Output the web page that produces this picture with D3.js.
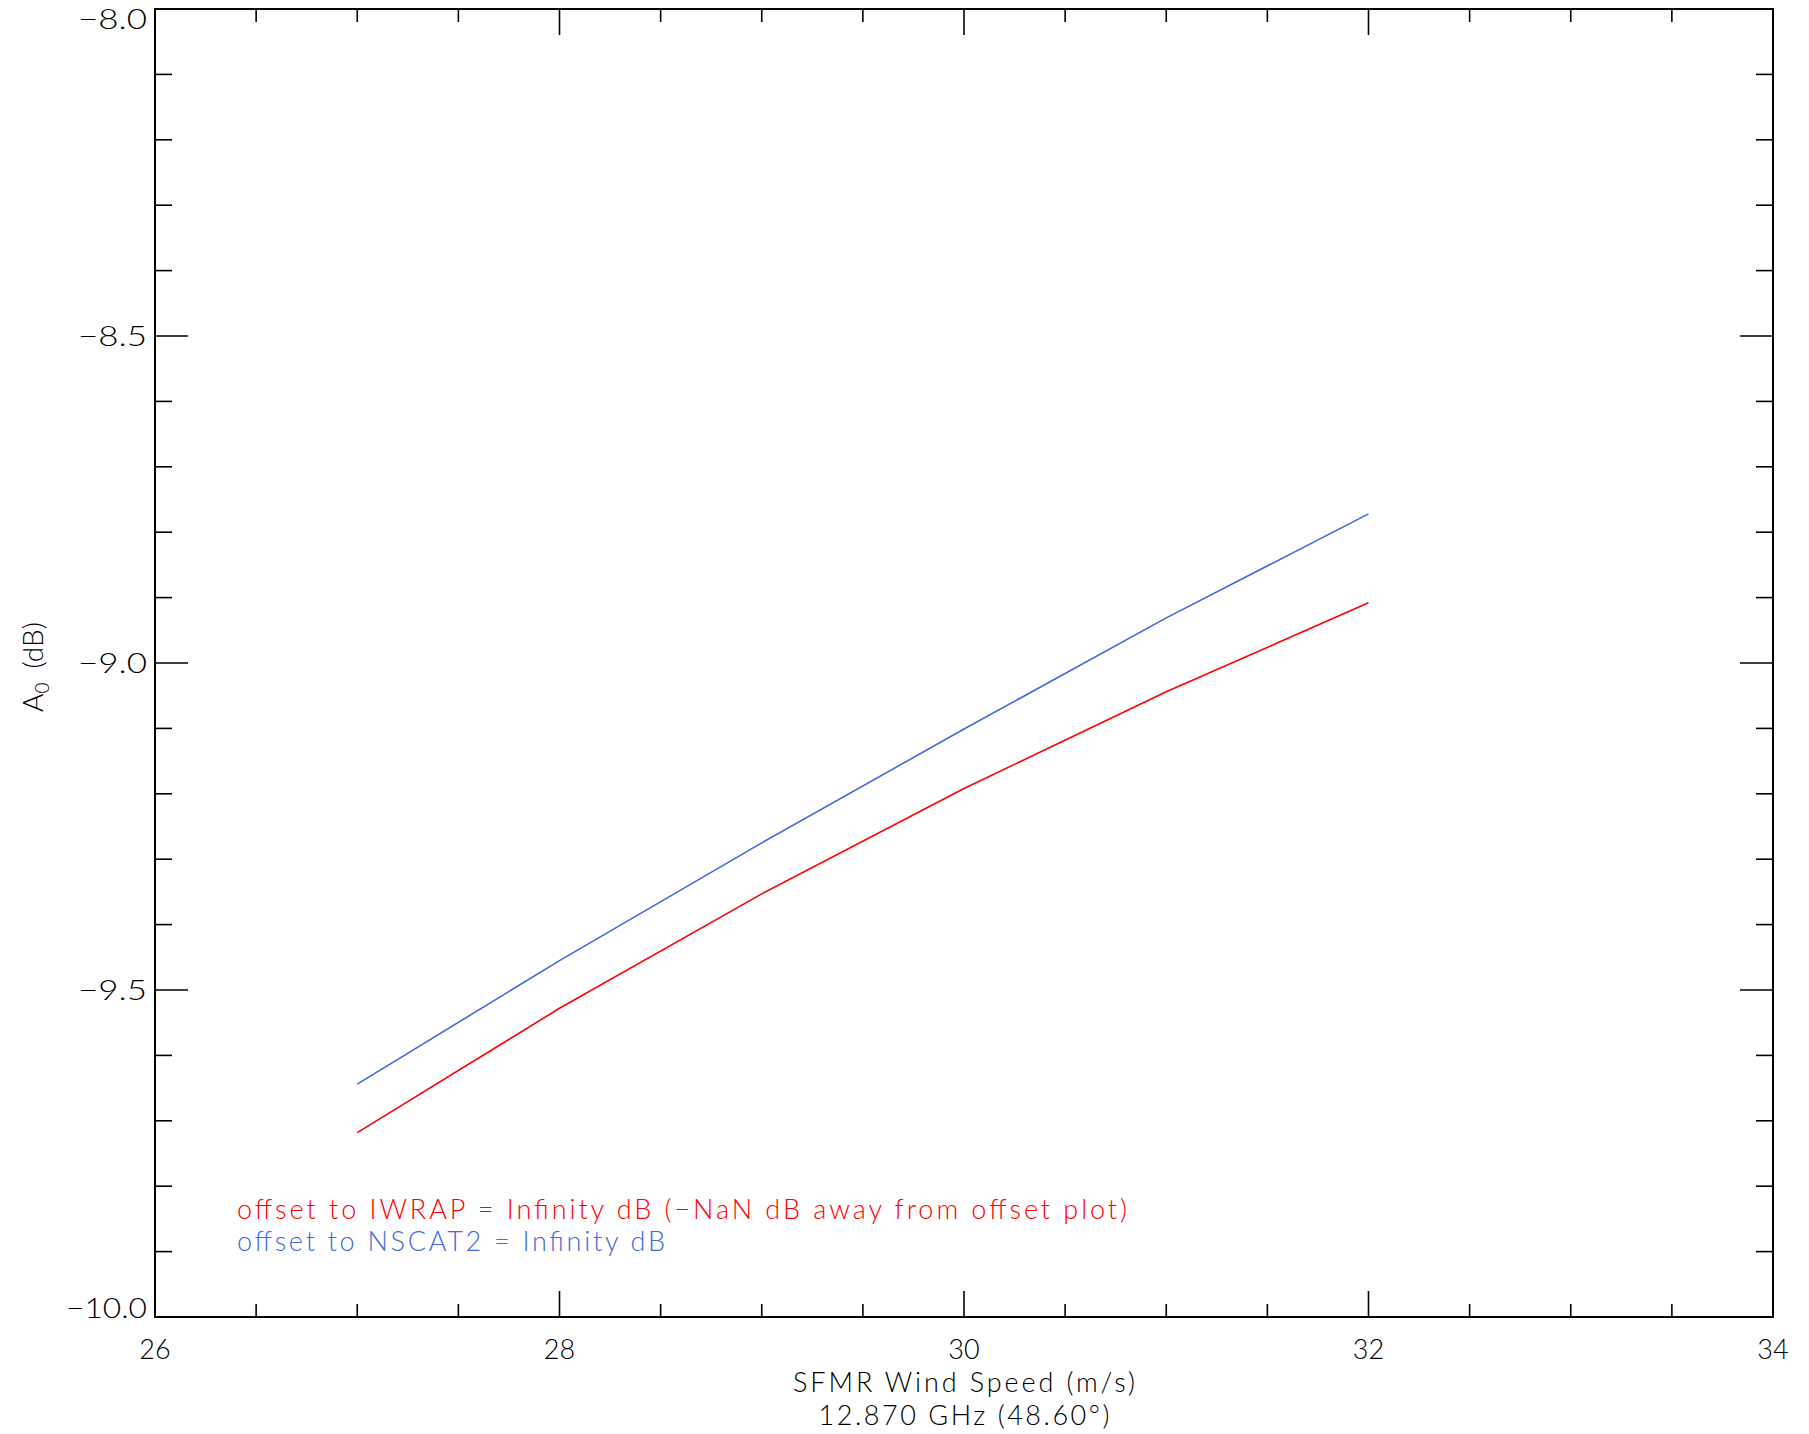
<!DOCTYPE html>
<html>
<head>
<meta charset="utf-8">
<script src="https://cdn.jsdelivr.net/npm/d3@7"></script>
<style>
  html, body { margin: 0; padding: 0; background: #ffffff; }
  svg { display: block; }
  text { font-family: Lato, "DejaVu Sans", sans-serif; font-weight: 300; fill: #000; }
</style>
</head>
<body>
<script>
// ---- data ----
const windSpeed = [27, 28, 29, 30, 31, 32];
const iwrapA0   = [-9.718, -9.528, -9.353, -9.192, -9.044, -8.908];
const nscat2A0  = [-9.644, -9.455, -9.275, -9.101, -8.931, -8.772];

const xTickValues = [26, 28, 30, 32, 34];
const xTickLabels = ["26", "28", "30", "32", "34"];
const yTickValues = [-10.0, -9.5, -9.0, -8.5, -8.0];
const yTickLabels = ["\u221210.0", "\u22129.5", "\u22129.0", "\u22128.5", "\u22128.0"];

const xDomain = [26, 34];
const yDomain = [-10, -8];

const legendLines = [
  "offset to IWRAP = Infinity dB (\u2212NaN dB away from offset plot)",
  "offset to NSCAT2 = Infinity dB"
];
const xLabel1 = "SFMR Wind Speed (m/s)";
const xLabel2 = "12.870 GHz (48.60\u00b0)";

// ---- layout ----
const W = 1809, H = 1434;
const L = 155, R = 1773, T = 9, B = 1317;
const red = "#ff0000", blue = "#4169e1";
const fs = 27;

const svg = d3.select("body").append("svg").attr("width", W).attr("height", H);

const x = d3.scaleLinear().domain(xDomain).range([L, R]);
const y = d3.scaleLinear().domain(yDomain).range([B, T]);

const xMinor = x.ticks(16).filter(v => !xTickValues.includes(v));
const yMinor = y.ticks(20).filter(v => !yTickValues.some(t => Math.abs(t - v) < 1e-9));

// ticks (inward, all four sides)
const tk = svg.append("g").attr("stroke", "#000").attr("stroke-width", 1.6);
function vTicks(vals, len) {
  vals.forEach(v => {
    tk.append("line").attr("x1", x(v)).attr("x2", x(v)).attr("y1", B).attr("y2", B - len);
    tk.append("line").attr("x1", x(v)).attr("x2", x(v)).attr("y1", T).attr("y2", T + len);
  });
}
function hTicks(vals, len) {
  vals.forEach(v => {
    tk.append("line").attr("y1", y(v)).attr("y2", y(v)).attr("x1", L).attr("x2", L + len);
    tk.append("line").attr("y1", y(v)).attr("y2", y(v)).attr("x1", R).attr("x2", R - len);
  });
}
vTicks(xTickValues, 26);
vTicks(xMinor, 13);
hTicks(yTickValues, 33);
hTicks(yMinor, 17);

// frame
svg.append("rect").attr("x", L).attr("y", T).attr("width", R - L).attr("height", B - T)
  .attr("fill", "none").attr("stroke", "#000").attr("stroke-width", 2);

// tick labels
svg.append("g").selectAll("text").data(xTickValues).join("text")
  .attr("x", d => x(d)).attr("y", 1359).attr("text-anchor", "middle")
  .attr("font-size", fs).text((d, i) => xTickLabels[i]);

// y labels: centred on tick, but kept inside the plot's vertical extent
svg.append("g").selectAll("text").data(yTickValues).join("text")
  .attr("x", 147)
  .attr("y", d => Math.min(Math.max(y(d), T + 10), B - 9))
  .attr("dy", "0.36em").attr("text-anchor", "end")
  .attr("font-size", fs)
  .attr("textLength", (d, i) => yTickLabels[i].length > 4 ? 81 : 69)
  .attr("lengthAdjust", "spacingAndGlyphs")
  .text((d, i) => yTickLabels[i]);

// axis labels
svg.append("text").attr("x", x(30)).attr("y", 1392).attr("text-anchor", "middle")
  .attr("font-size", fs).attr("textLength", 342).attr("lengthAdjust", "spacing").text(xLabel1);
svg.append("text").attr("x", x(30)).attr("y", 1425).attr("text-anchor", "middle")
  .attr("font-size", fs).attr("textLength", 291).attr("lengthAdjust", "spacing").text(xLabel2);

const yl = svg.append("text").attr("transform", "translate(43,667) rotate(-90)")
  .attr("text-anchor", "middle").attr("font-size", 28);
yl.append("tspan").text("A");
yl.append("tspan").attr("font-size", 19).attr("dy", 6).text("0");
yl.append("tspan").attr("dy", -6).text("\u2002(dB)");

// data lines
const line = d3.line().x((d, i) => x(windSpeed[i])).y(d => y(d));
svg.append("path").datum(nscat2A0).attr("d", line)
  .attr("fill", "none").attr("stroke", blue).attr("stroke-width", 1.6);
svg.append("path").datum(iwrapA0).attr("d", line)
  .attr("fill", "none").attr("stroke", red).attr("stroke-width", 1.6);

// legend text
svg.append("text").attr("x", 237).attr("y", 1219).attr("font-size", fs)
  .style("fill", red).attr("textLength", 890).attr("lengthAdjust", "spacing").text(legendLines[0]);
svg.append("text").attr("x", 237).attr("y", 1251).attr("font-size", fs)
  .style("fill", blue).attr("textLength", 428).attr("lengthAdjust", "spacing").text(legendLines[1]);
</script>
</body>
</html>
